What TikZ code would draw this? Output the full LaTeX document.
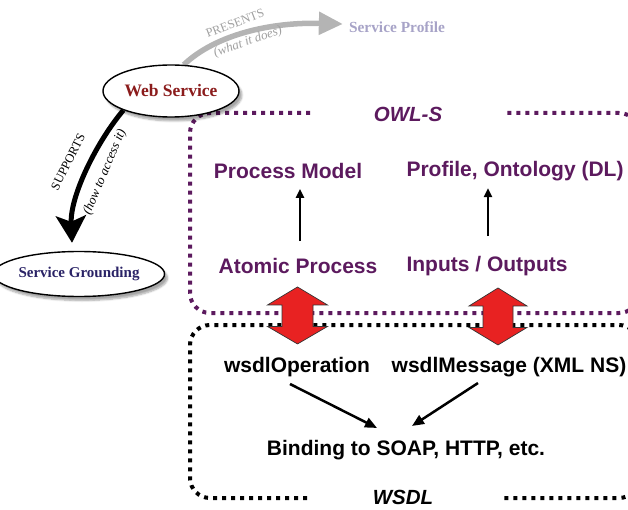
\documentclass[tikz,border=0pt]{standalone}
\usepackage{fontspec}
\setmainfont{Liberation Serif}
\setsansfont{Liberation Sans}
\usetikzlibrary{shapes.geometric,arrows.meta,shadows.blur,calc,backgrounds}

\definecolor{owlpurple}{HTML}{5C1A5E}
\definecolor{wsred}{HTML}{8B1C1C}
\definecolor{sgblue}{HTML}{2A2366}
\definecolor{sptext}{HTML}{A7A3C7}
\definecolor{arcgray}{HTML}{B4B4B4}
\definecolor{lblgray}{HTML}{A0A0A0}
\definecolor{bigred}{HTML}{E82222}

\begin{document}
\begin{tikzpicture}[x=1pt,y=-1pt,
  bubble/.style={ellipse, draw=black, line width=1.4pt, fill=white, inner sep=0pt,
    font=\rmfamily\bfseries,
    blur shadow={shadow xshift=3pt, shadow yshift=-4pt, shadow opacity=35, shadow blur steps=6}},
  owltxt/.style={font=\sffamily\bfseries\fontsize{21}{25}\selectfont, text=owlpurple, inner sep=0pt},
  wsdltxt/.style={font=\sffamily\bfseries\fontsize{21}{25}\selectfont, text=black, inner sep=0pt},
  boxtitle/.style={font=\sffamily\bfseries\itshape\fontsize{20.5}{24}\selectfont, inner sep=0pt},
  arclbl/.style={font=\rmfamily\fontsize{12.5}{14}\selectfont, inner sep=0pt},
  arclblit/.style={font=\rmfamily\itshape\fontsize{13}{15}\selectfont, inner sep=0pt},
  dotline/.style={line width=4pt, dash pattern=on 4pt off 5pt, rounded corners=20pt},
  uparrow/.style={line width=2.5pt, -{Triangle[length=9pt,width=8pt]}},
  bindarrow/.style={line width=2.5pt, -{Triangle[length=12pt,width=10pt]}},
  redarrow/.style={fill=bigred, draw=black!80, line width=0.7pt, line join=miter}
]
\useasboundingbox (0,0) rectangle (628,510);

% --- text of the two layers ---
\node[owltxt] (pm)  at (288,171) {Process Model};
\node[owltxt] (pod) at (515,171) {Profile, Ontology (DL)};
\node[owltxt] (ap)  at (298,266) {Atomic Process};
\node[owltxt] (io)  at (487,266) {Inputs / Outputs};
\node[wsdltxt] (op)   at (297,367) {wsdlOperation};
\node[wsdltxt] (msg)  at (509,367) {wsdlMessage (XML NS)};
\node[wsdltxt] (bind) at (406,450) {Binding to SOAP, HTTP, etc.};

% --- arrows inside the layers ---
\draw[uparrow] ([xshift=2pt,yshift=17pt]ap.north) -- ([xshift=12pt,yshift=-10pt]pm.south);
\draw[uparrow] ([xshift=1pt,yshift=20pt]io.north) -- ([xshift=-27pt,yshift=-7pt]pod.south);
\draw[bindarrow] ([xshift=-7pt,yshift=-7pt]op.south) -- ([xshift=-29pt,yshift=12pt]bind.north);
\draw[bindarrow] ([xshift=-31pt,yshift=-6pt]msg.south) -- ([xshift=6pt,yshift=14pt]bind.north);

% --- dotted layer frames with their titles ---
\node[boxtitle, text=owlpurple] (owl) at (408,114) {OWL-S};
\node[boxtitle, text=black] (wsdl) at (403,497) {WSDL};
\draw[dotline, owlpurple] (310,113) -| (190,313) -| (639,113) -- (505,113);
\draw[dotline, black] (307,498) -| (190,325) -| (639,498) -- (500,498);

% --- red mapping arrows between OWL-S and WSDL ---
\coordinate (ra1) at ($(ap.south)!0.5!(op.north)$);
\coordinate (ra2) at ($(io.south)!0.5!(msg.north)$);
\filldraw[redarrow] (ra1) ++(0,-28.5) -- ++(30,18) -- ++(-14.5,0) -- ++(0,21.5)
  -- ++(14.5,0) -- ++(-30,17.5) -- ++(-30,-17.5) -- ++(14.5,0) -- ++(0,-21.5)
  -- ++(-14.5,0) -- cycle;
\filldraw[redarrow] (ra2) ++(0,-28.5) -- ++(29,18) -- ++(-14,0) -- ++(0,21.5)
  -- ++(14,0) -- ++(-29,17.5) -- ++(-29,-17.5) -- ++(14,0) -- ++(0,-21.5)
  -- ++(-14,0) -- cycle;

% --- Web Service and its two relations ---
\node[font=\rmfamily\bfseries\fontsize{15.4}{18}\selectfont, text=sptext, inner sep=0pt]
  (sp) at (397,27) {Service Profile};
\node[bubble, minimum width=136pt, minimum height=52pt,
  font=\rmfamily\bfseries\fontsize{17.5}{20}\selectfont, text=wsred] (ws) at (171,91) {Web Service};
\node[bubble, minimum width=135pt, minimum height=45pt,
  font=\rmfamily\bfseries\fontsize{15}{18}\selectfont, text=sgblue] (sg) at (79,274) {Service Grounding};

\coordinate (presEnd) at ([xshift=-6pt,yshift=3pt]sp.west);
\coordinate (suppEnd) at ([xshift=-7pt,yshift=8pt]sg.north);
\begin{scope}[on background layer]
  \draw[arcgray, line width=5.5pt, -{Triangle[length=24pt,width=22pt]}]
    (ws.64) .. controls (215,35) and (270,22) .. (presEnd);
  \draw[black, line width=5pt, -{Stealth[length=27pt,width=30pt,inset=6pt]}]
    (ws.202) .. controls (98,140) and (70,195) .. (suppEnd);
\end{scope}

\node[arclbl, text=lblgray, rotate=21] (pres) at (235,23) {PRESENTS};
\node[arclblit, text=lblgray, rotate=19] (what) at (248,42) {(what it does)};
\node[arclbl, rotate=63] (supp) at (68,162) {SUPPORTS};
\node[arclblit, rotate=67] (how) at (105,172) {(how to access it)};
\end{tikzpicture}
\end{document}
